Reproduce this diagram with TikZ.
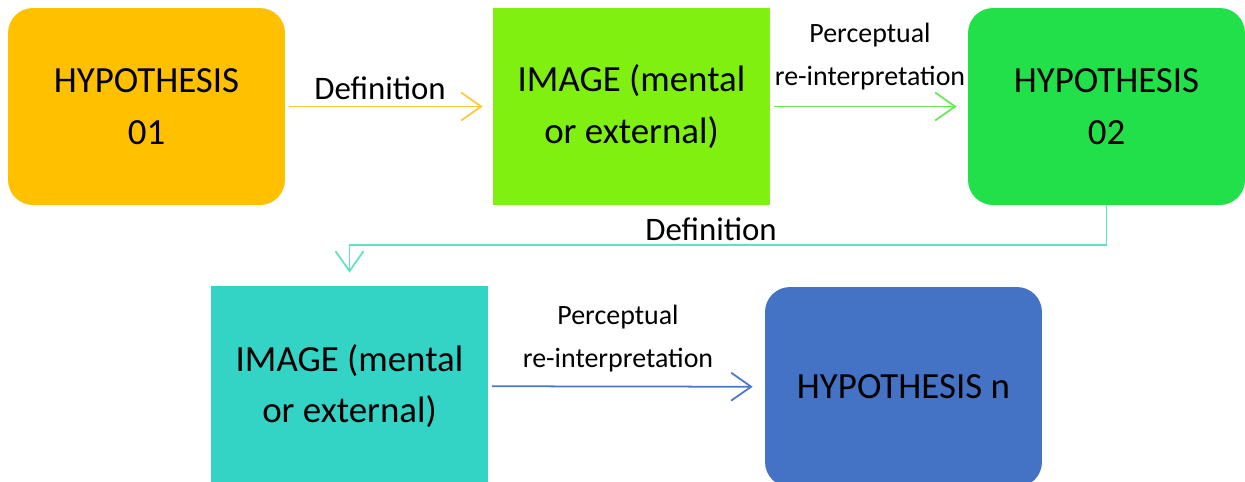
\documentclass[tikz,border=0pt]{standalone}
\usepackage{fontspec}
\setmainfont{Carlito}
\usetikzlibrary{arrows.meta}
\definecolor{hypA}{HTML}{FFC000}
\definecolor{imgA}{HTML}{80F010}
\definecolor{hypB}{HTML}{22E04A}
\definecolor{imgB}{HTML}{33D4C5}
\definecolor{hypN}{HTML}{4472C4}
\definecolor{lnA}{HTML}{FFC83A}
\definecolor{lnB}{HTML}{66EA55}
\definecolor{lnC}{HTML}{5EE2C2}
\definecolor{lnN}{HTML}{4A78C8}
\tikzset{
  box/.style={minimum width=5.54cm, minimum height=3.94cm, inner sep=0pt,
    align=center, font=\fontsize{21}{29.5}\selectfont, text=black},
  hypbox/.style={box, rounded corners=0.5cm},
  imgbox/.style={box},
  link/.style={line width=1pt,
    -{Straight Barb[length=0.4cm, width=0.56cm, line width=1pt]}},
  deflabel/.style={font=\fontsize{18.7}{22}\selectfont, anchor=base, inner sep=0pt},
  perlabel/.style={font=\fontsize{15.9}{24.4}\selectfont, anchor=base, inner sep=0pt, align=center},
}
\begin{document}
\begin{tikzpicture}[x=0.02cm, y=-0.02cm]
  \useasboundingbox (0,0) rectangle (1245,481);
  % top row
  \node[hypbox, fill=hypA] (h1) at (146.5,106.5) {HYPOTHESIS\\01};
  \node[imgbox, fill=imgA] (i1) at (631.5,106.5) {IMAGE (mental\\or external)};
  \node[hypbox, fill=hypB] (h2) at (1106.5,106.5) {HYPOTHESIS\\02};
  % bottom row
  \node[imgbox, fill=imgB, minimum height=4cm] (i2) at (349.5,386) {IMAGE (mental\\or external)};
  \node[hypbox, fill=hypN, minimum height=4cm] (hn) at (903.5,387) {HYPOTHESIS n};
  % connectors
  \draw[link, draw=lnA, shorten <=2pt, shorten >=0.2cm] (h1) -- (i1);
  \draw[link, draw=lnB, shorten <=2pt, shorten >=0.22cm] (i1) -- (h2);
  \coordinate (bend) at (1106.5,245);
  \draw[link, draw=lnC, shorten >=0.26cm] (h2.south) -- (bend) -| (i2.north);
  \draw[link, draw=lnN, shorten <=2pt, shorten >=0.24cm] (i2) -- (hn);
  % labels (base anchor sits on the last line)
  \node[deflabel] (d1) at (380,99) {Definition};
  \node[perlabel] (p1) at (870,85) {Perceptual\\re-interpretation};
  \node[deflabel] (d2) at (711,240) {Definition};
  \node[perlabel] (p2) at (618,367) {Perceptual\\re-interpretation};
\end{tikzpicture}
\end{document}
